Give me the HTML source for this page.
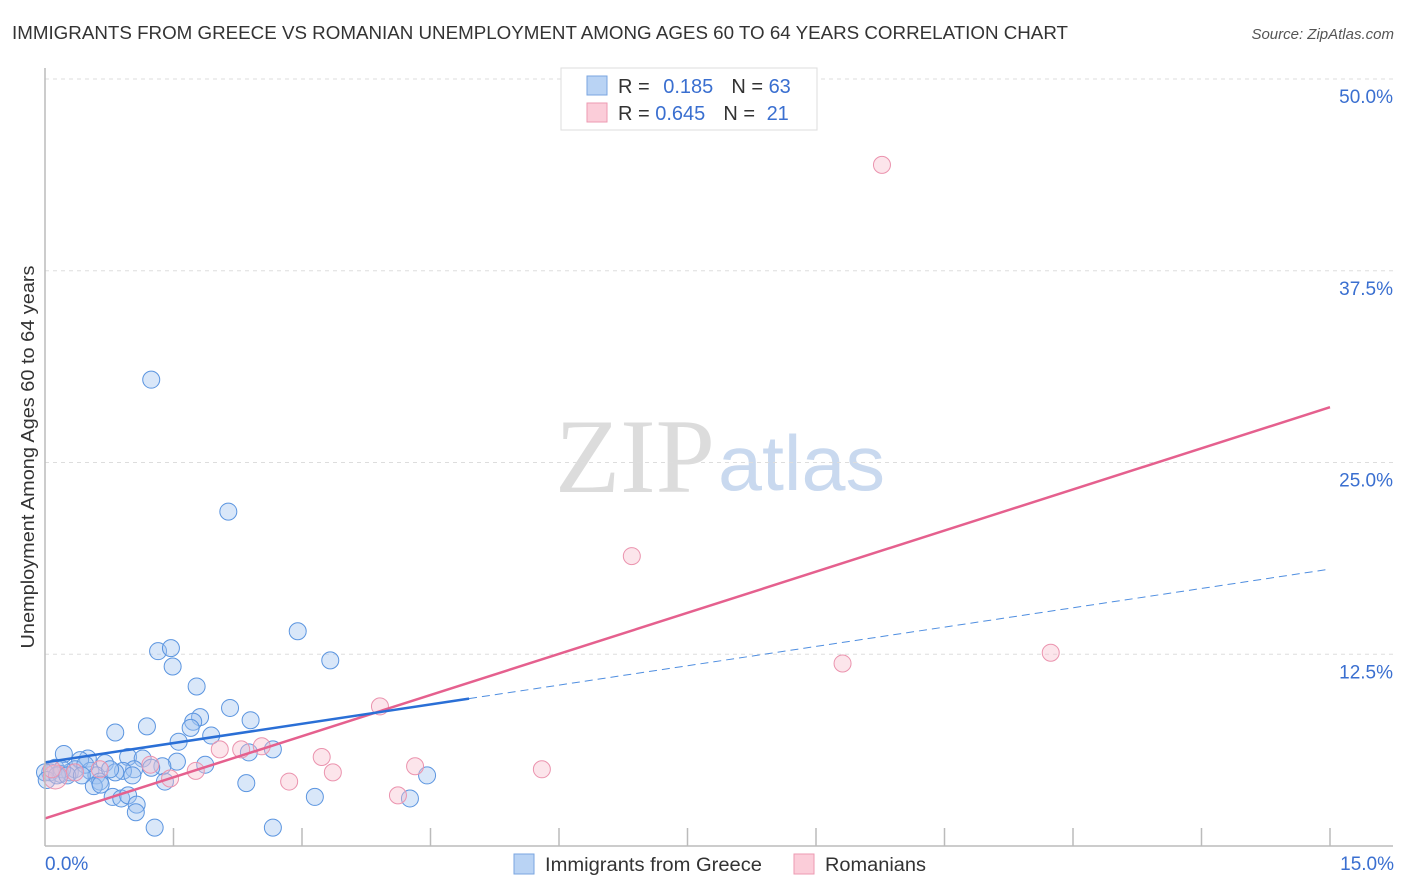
<!DOCTYPE html>
<html><head><meta charset="utf-8"><style>
body{margin:0;background:#fff;font-family:"Liberation Sans",sans-serif;}
#wrap{position:relative;width:1406px;height:892px;overflow:hidden;}
</style></head><body>
<div id="wrap">
<svg id="svg" width="1406" height="892" xmlns="http://www.w3.org/2000/svg">
<text x="12" y="39" font-size="18" fill="#333" textLength="1056" lengthAdjust="spacingAndGlyphs">IMMIGRANTS FROM GREECE VS ROMANIAN UNEMPLOYMENT AMONG AGES 60 TO 64 YEARS CORRELATION CHART</text>
<text x="1394" y="39" font-size="15" fill="#555" font-style="italic" text-anchor="end">Source: ZipAtlas.com</text>
<text x="555" y="492" font-size="106" fill="#dcdcdc" font-family="Liberation Serif,serif" textLength="160" lengthAdjust="spacingAndGlyphs">ZIP</text>
<text x="718" y="490" font-size="78" fill="#c9d9ef" textLength="167" lengthAdjust="spacingAndGlyphs">atlas</text>
<text transform="translate(34,457) rotate(-90)" font-size="18" fill="#333" text-anchor="middle" textLength="383" lengthAdjust="spacingAndGlyphs">Unemployment Among Ages 60 to 64 years</text>
<g id="grid"></g><g id="marks"></g><g id="lines"></g>
<line x1="45" y1="68" x2="45" y2="846" stroke="#bbb" stroke-width="1.5"/>
<line x1="45" y1="846" x2="1393" y2="846" stroke="#bbb" stroke-width="1.5"/>
<text x="45" y="870" font-size="19" fill="#3a6fd0">0.0%</text>
<text x="1394" y="870" font-size="19" fill="#3a6fd0" text-anchor="end">15.0%</text>
<g>
<rect x="514" y="854" width="20" height="20" fill="#b9d3f4" stroke="#7aa6e0"/>
<text x="545" y="871" font-size="19" fill="#333" textLength="217" lengthAdjust="spacingAndGlyphs">Immigrants from Greece</text>
<rect x="794" y="854" width="20" height="20" fill="#fbcdd9" stroke="#ec9ab2"/>
<text x="825" y="871" font-size="19" fill="#333" textLength="101" lengthAdjust="spacingAndGlyphs">Romanians</text>
</g>
<g>
<rect x="561" y="68" width="256" height="62" fill="#fff" stroke="#ddd"/>
<rect x="587" y="76" width="20" height="19" fill="#b9d3f4" stroke="#7aa6e0"/>
<text x="618" y="93" font-size="20" fill="#333">R = <tspan fill="#3a6fd0" dx="8">0.185</tspan><tspan dx="18">N = </tspan><tspan fill="#3a6fd0">63</tspan></text>
<rect x="587" y="103" width="20" height="19" fill="#fbcdd9" stroke="#ec9ab2"/>
<text x="618" y="120" font-size="20" fill="#333">R = <tspan fill="#3a6fd0">0.645</tspan><tspan dx="18">N = </tspan><tspan fill="#3a6fd0" dx="6">21</tspan></text>
</g>
</svg>
</div>
<script>
const yTicks=[12.5,25.0,37.5,50.0];
const xTickVals=[1.5,3,4.5,6,7.5,9,10.5,12,13.5,15];
const greeceX=[1.24,2.14,2.95,3.33,1.32,1.47,1.49,1.77,2.16,2.40,1.81,1.73,1.70,1.19,0.82,1.56,1.94,2.66,2.38,0.22,0.50,0.97,1.14,0.41,0.70,1.54,1.87,1.37,1.24,1.04,0.91,0.12,0.06,0.18,0.29,0.35,0.53,0.60,0.82,1.02,0.64,1.40,0.57,0.65,4.46,2.35,0.79,0.89,0.97,1.07,1.06,3.15,4.26,1.28,2.66,0.0,0.02,0.47,0.2,0.14,0.26,0.76,0.43];
const greeceY=[30.4,21.8,14.0,12.1,12.7,12.9,11.7,10.4,9.0,8.2,8.4,8.1,7.7,7.8,7.4,6.8,7.2,6.3,6.1,6.0,5.7,5.8,5.7,5.6,5.4,5.5,5.3,5.2,5.1,5.0,4.9,5.1,4.8,4.7,4.8,5.0,4.9,4.6,4.8,4.6,4.2,4.2,3.9,4.0,4.6,4.1,3.2,3.1,3.3,2.7,2.2,3.2,3.1,1.2,1.2,4.8,4.3,5.3,5.0,4.6,4.6,5.0,4.6];
const romX=[9.77,6.85,9.31,11.74,3.91,3.23,2.53,2.29,2.04,3.36,4.32,5.80,2.85,4.12,1.76,1.46,0.12,0.08,0.35,0.64,1.23];
const romY=[44.4,18.9,11.9,12.6,9.1,5.8,6.5,6.3,6.3,4.8,5.2,5.0,4.2,3.3,4.9,4.4,4.5,5.0,4.8,5.0,5.3];
const greeceFit=[5.45,0.84];
const romFit=[1.8,1.787];
const X0=45,X1=1330,Y0=846,Y50=79;
const sx=v=>X0+v/15*(X1-X0);
const sy=v=>Y0-v/50*(Y0-Y50);
const NS='http://www.w3.org/2000/svg';
function mk(tag,attrs,parent){const e=document.createElementNS(NS,tag);for(const k in attrs)e.setAttribute(k,attrs[k]);parent.appendChild(e);return e;}
const grid=document.getElementById('grid'),marks=document.getElementById('marks'),lines=document.getElementById('lines');
yTicks.forEach(t=>{
 const l=mk('line',{x1:45,x2:1393,y1:sy(t),y2:sy(t),stroke:'#ddd','stroke-dasharray':'4,4'},grid);
 
 
 const tx=mk('text',{x:1393,y:sy(t)+24,'font-size':19,fill:'#3a6fd0','text-anchor':'end'},grid);
 tx.textContent=t.toFixed(1)+'%';
 
 
});
xTickVals.forEach(t=>{
 const l=mk('line',{x1:sx(t),x2:sx(t),y1:828,y2:846,stroke:'#bbb','stroke-width':1.5},grid);
 
 
});
greeceX.forEach((x,i)=>{
 const c=mk('circle',{cx:sx(x),cy:sy(greeceY[i]),r:8.5,fill:'rgba(160,196,240,0.4)',stroke:'#5b95e0','stroke-width':1},marks);
 
 
});
romX.forEach((x,i)=>{
 const c=mk('circle',{cx:sx(x),cy:sy(romY[i]),r:i==16?12:8.5,fill:'rgba(248,190,206,0.4)',stroke:'#eb93ae','stroke-width':1},marks);
 
 
});
const gf=x=>greeceFit[0]+greeceFit[1]*x, rf=x=>romFit[0]+romFit[1]*x;
let l1=mk('line',{x1:sx(0),y1:sy(rf(0)),x2:sx(15),y2:sy(rf(15)),stroke:'#e5608e','stroke-width':2.5},lines);


let l2=mk('line',{x1:sx(0),y1:sy(gf(0)),x2:sx(4.95),y2:sy(gf(4.95)),stroke:'#2a6fd6','stroke-width':2.5},lines);


let l3=mk('line',{x1:sx(4.95),y1:sy(gf(4.95)),x2:sx(15),y2:sy(gf(15)),stroke:'#4f8ee0','stroke-width':1,'stroke-dasharray':'8,5'},lines);


</script>
</body></html>
